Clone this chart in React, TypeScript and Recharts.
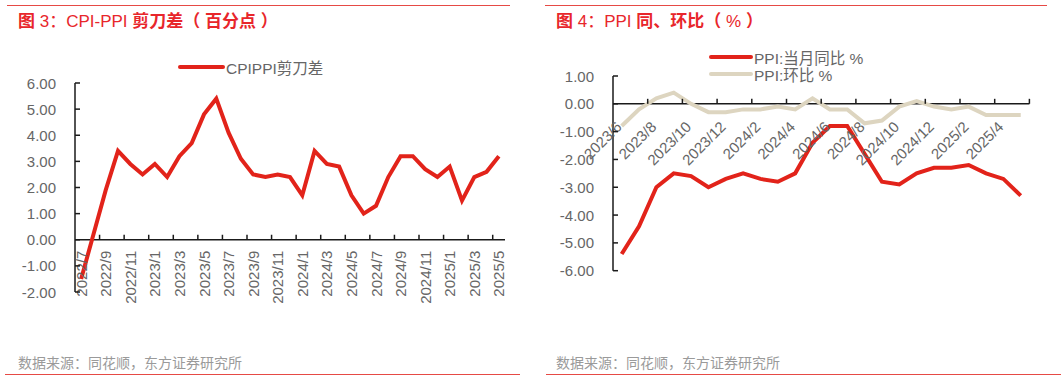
import React from 'react';
import { LineChart, Line, XAxis, YAxis, ReferenceLine, Legend } from 'recharts';

// ---------- data ----------
const spreadMonths = [
  '2022/7', '2022/8', '2022/9', '2022/10', '2022/11', '2022/12',
  '2023/1', '2023/2', '2023/3', '2023/4', '2023/5', '2023/6',
  '2023/7', '2023/8', '2023/9', '2023/10', '2023/11', '2023/12',
  '2024/1', '2024/2', '2024/3', '2024/4', '2024/5', '2024/6',
  '2024/7', '2024/8', '2024/9', '2024/10', '2024/11', '2024/12',
  '2025/1', '2025/2', '2025/3', '2025/4', '2025/5',
];
const cpiPpiSpread = [
  -1.5, 0.2, 1.9, 3.4, 2.9, 2.5,
  2.9, 2.4, 3.2, 3.7, 4.8, 5.4,
  4.1, 3.1, 2.5, 2.4, 2.5, 2.4,
  1.7, 3.4, 2.9, 2.8, 1.7, 1.0,
  1.3, 2.4, 3.2, 3.2, 2.7, 2.4,
  2.8, 1.5, 2.4, 2.6, 3.2,
];
const spreadTicks = [-2, -1, 0, 1, 2, 3, 4, 5, 6];

const ppiMonths = [
  '2023/6', '2023/7', '2023/8', '2023/9', '2023/10', '2023/11',
  '2023/12', '2024/1', '2024/2', '2024/3', '2024/4', '2024/5',
  '2024/6', '2024/7', '2024/8', '2024/9', '2024/10', '2024/11',
  '2024/12', '2025/1', '2025/2', '2025/3', '2025/4', '2025/5',
];
const ppiYoY = [
  -5.4, -4.4, -3.0, -2.5, -2.6, -3.0,
  -2.7, -2.5, -2.7, -2.8, -2.5, -1.4,
  -0.8, -0.8, -1.8, -2.8, -2.9, -2.5,
  -2.3, -2.3, -2.2, -2.5, -2.7, -3.3,
];
const ppiMoM = [
  -0.8, -0.2, 0.2, 0.4, 0.0, -0.3,
  -0.3, -0.2, -0.2, -0.1, -0.2, 0.2,
  -0.2, -0.2, -0.7, -0.6, -0.1, 0.1,
  -0.1, -0.2, -0.1, -0.4, -0.4, -0.4,
];
const ppiTicks = [-6, -5, -4, -3, -2, -1, 0, 1];

const spreadData = spreadMonths.map((m, i) => ({ m, v: cpiPpiSpread[i] }));
const ppiData = ppiMonths.map((m, i) => ({ m, yoy: ppiYoY[i], mom: ppiMoM[i] }));

// ---------- style ----------
const FONT = '"Liberation Sans", Arial, "Noto Sans CJK SC", sans-serif';
const CJK = '"Noto Sans CJK SC", "Liberation Sans", sans-serif';
const RED = '#E2231A';
const BEIGE = '#DDD5C0';
const AXIS = '#1a1a1a';
const LABEL = '#666666';
const TITLE_RED = '#E8262B';
const RULE_RED = '#E64A45';
const XAXIS_H = 30;

type Layout = { w: number; h: number; top: number; bottom: number; left: number; right: number; min: number; max: number };

// chart layouts (bottom = distance from plot bottom to svg bottom)
const C1: Layout = { w: 530, h: 381, top: 83, bottom: 89, left: 75, right: 25, min: -2, max: 6 };
const C2: Layout = { w: 531, h: 381, top: 76, bottom: 110.3, left: 83, right: 31.6, min: -6, max: 1 };

const zeroOf = (c: Layout) => {
  const plotH = c.h - c.top - c.bottom;
  return c.top + (plotH * c.max) / (c.max - c.min);
};
const bandOf = (c: Layout, n: number) => (c.w - c.left - c.right) / n;

const makeYTick = (c: Layout) => (props: any) => {
  const { y, payload } = props;
  return (
    <g>
      <line x1={c.left} x2={c.left + 5} y1={y} y2={y} stroke={AXIS} strokeWidth={1.5} />
      <text x={c.left - 19} y={y} dy={5.5} textAnchor="end" fontSize={15} fill={LABEL} fontFamily={FONT}>
        {Number(payload.value).toFixed(2)}
      </text>
    </g>
  );
};

const makeXTick = (c: Layout, cats: string[], rotate: number) => (props: any) => {
  const { x, payload } = props;
  const i = cats.indexOf(String(payload.value));
  if (i < 0 || i % 2 !== 0) return <g />;
  const zy = zeroOf(c);
  const bw = bandOf(c, cats.length);
  const marks: number[] = [];
  if (i > 0) marks.push(x - bw / 2);
  if (i + 2 === cats.length) marks.push(x + bw * 1.5);
  const tr = rotate === -90
    ? `translate(${x + 5.5},${zy + 11}) rotate(-90)`
    : `translate(${x + 1},${zy + 24}) rotate(-45)`;
  return (
    <g>
      {marks.map((mx, k) => (
        <line key={k} x1={mx} x2={mx} y1={zy} y2={zy - 5} stroke={AXIS} strokeWidth={1.5} />
      ))}
      <text transform={tr} textAnchor="end" fontSize={15} fill={LABEL} fontFamily={FONT}>
        {payload.value}
      </text>
    </g>
  );
};

const LegendRow = ({ color, label, w = 43 }: { color: string; label: string; w?: number }) => (
  <div style={{ display: 'flex', alignItems: 'center', height: 17 }}>
    <svg width={w + 4} height={8} style={{ display: 'block' }}>
      <line x1={2} x2={w + 2} y1={4} y2={4} stroke={color} strokeWidth={4} strokeLinecap="round" />
    </svg>
    <span style={{ fontFamily: FONT, fontSize: 15.5, color: LABEL, marginLeft: 1, whiteSpace: 'nowrap' }}>{label}</span>
  </div>
);

const Rule = ({ left, top, width }: { left: number; top: number; width: number }) => (
  <div style={{ position: 'absolute', left, top, width, height: 1.5, background: RULE_RED }} />
);

const Title = ({ left, parts }: { left: number; parts: [string, boolean][] }) => (
  <div style={{ position: 'absolute', left, top: 8, fontSize: 17, lineHeight: '24px', color: TITLE_RED, whiteSpace: 'pre', fontFamily: CJK }}>
    {parts.map(([t, b], k) => (
      <span key={k} style={{ fontWeight: b ? 700 : 400, fontFamily: b ? CJK : FONT }}>{t}</span>
    ))}
  </div>
);

const Source = ({ left }: { left: number }) => (
  <div style={{ position: 'absolute', left, top: 352, fontSize: 14, lineHeight: '20px', color: '#9a9a9a', fontFamily: CJK, whiteSpace: 'nowrap' }}>
    数据来源：同花顺，东方证券研究所
  </div>
);

const Chart = ({ c, data, cats, ticks, rotate, children, legend }: any) => {
  const bw = bandOf(c, cats.length);
  return (
    <LineChart width={c.w} height={c.h} data={data}
      margin={{ top: c.top, right: c.right, bottom: c.bottom - XAXIS_H, left: 0 }}>
      <XAxis dataKey="m" type="category" interval={0} height={XAXIS_H} axisLine={false} tickLine={false}
        tickSize={0} tickMargin={0} padding={{ left: bw / 2, right: bw / 2 }}
        tick={makeXTick(c, cats, rotate)} />
      <YAxis width={c.left} domain={[c.min, c.max]} ticks={ticks} interval={0}
        axisLine={{ stroke: AXIS, strokeWidth: 1.5 }} tickLine={false} tickSize={0} tickMargin={0}
        tick={makeYTick(c)} allowDataOverflow />
      <ReferenceLine y={0} stroke={AXIS} strokeWidth={1.5} />
      {legend}
      {children}
    </LineChart>
  );
};

export default function App() {
  return (
    <div style={{ position: 'absolute', left: 0, top: 0, width: 1061, height: 381, background: '#fff', overflow: 'hidden' }}>
      <Rule left={7} top={4.5} width={503} />
      <Rule left={545} top={4.5} width={502} />
      <Title left={18} parts={[['图', true], [' 3：', false], ['CPI-PPI ', false], ['剪刀差（', true], [' ', false], ['百分点', true], [' ', false], ['）', true]]} />
      <Title left={556} parts={[['图', true], [' 4：', false], ['PPI ', false], ['同、环比（', true], [' % ', false], ['）', true]]} />

      <div style={{ position: 'absolute', left: 0, top: 0 }}>
        <LineChart width={C1.w} height={C1.h} data={spreadData}
          margin={{ top: C1.top, right: C1.right, bottom: C1.bottom - XAXIS_H, left: 0 }}>
          <XAxis dataKey="m" type="category" interval={0} height={XAXIS_H} axisLine={false} tickLine={false}
            tickSize={0} tickMargin={0} padding={{ left: bandOf(C1, spreadMonths.length) / 2, right: bandOf(C1, spreadMonths.length) / 2 }}
            tick={makeXTick(C1, spreadMonths, -90)} />
          <YAxis width={C1.left} domain={[C1.min, C1.max]} ticks={spreadTicks} interval={0}
            axisLine={{ stroke: AXIS, strokeWidth: 1.5 }} tickLine={false} tickSize={0} tickMargin={0}
            tick={makeYTick(C1)} allowDataOverflow />
          <ReferenceLine y={0} stroke={AXIS} strokeWidth={1.5} />
          <Legend verticalAlign="middle" align="center" layout="horizontal"
            wrapperStyle={{ top: 58, left: 178, width: 200, height: 18 }}
            content={() => <LegendRow color={RED} label="CPIPPI剪刀差" />} />
          <Line type="linear" dataKey="v" name="CPIPPI剪刀差" stroke={RED} strokeWidth={4} dot={false}
            activeDot={false} isAnimationActive={false} />
        </LineChart>
      </div>

      <div style={{ position: 'absolute', left: 530, top: 0 }}>
        <LineChart width={C2.w} height={C2.h} data={ppiData}
          margin={{ top: C2.top, right: C2.right, bottom: C2.bottom - XAXIS_H, left: 0 }}>
          <XAxis dataKey="m" type="category" interval={0} height={XAXIS_H} axisLine={false} tickLine={false}
            tickSize={0} tickMargin={0} padding={{ left: bandOf(C2, ppiMonths.length) / 2, right: bandOf(C2, ppiMonths.length) / 2 }}
            tick={makeXTick(C2, ppiMonths, -45)} />
          <YAxis width={C2.left} domain={[C2.min, C2.max]} ticks={ppiTicks} interval={0}
            axisLine={{ stroke: AXIS, strokeWidth: 1.5 }} tickLine={false} tickSize={0} tickMargin={0}
            tick={makeYTick(C2)} allowDataOverflow />
          <ReferenceLine y={0} stroke={AXIS} strokeWidth={1.5} />
          <Legend verticalAlign="middle" align="center" layout="horizontal"
            wrapperStyle={{ top: 48, left: 179, width: 220, height: 36 }}
            content={() => (
              <div>
                <LegendRow color={RED} label="PPI:当月同比 %" w={40} />
                <LegendRow color={BEIGE} label="PPI:环比 %" w={40} />
              </div>
            )} />
          <Line type="linear" dataKey="mom" name="PPI:环比 %" stroke={BEIGE} strokeWidth={4} dot={false}
            activeDot={false} isAnimationActive={false} />
          <Line type="linear" dataKey="yoy" name="PPI:当月同比 %" stroke={RED} strokeWidth={4} dot={false}
            activeDot={false} isAnimationActive={false} />
        </LineChart>
      </div>

      <Source left={18} />
      <Source left={556} />
      <Rule left={5} top={373.5} width={515} />
      <Rule left={546} top={373.5} width={515} />
    </div>
  );
}
